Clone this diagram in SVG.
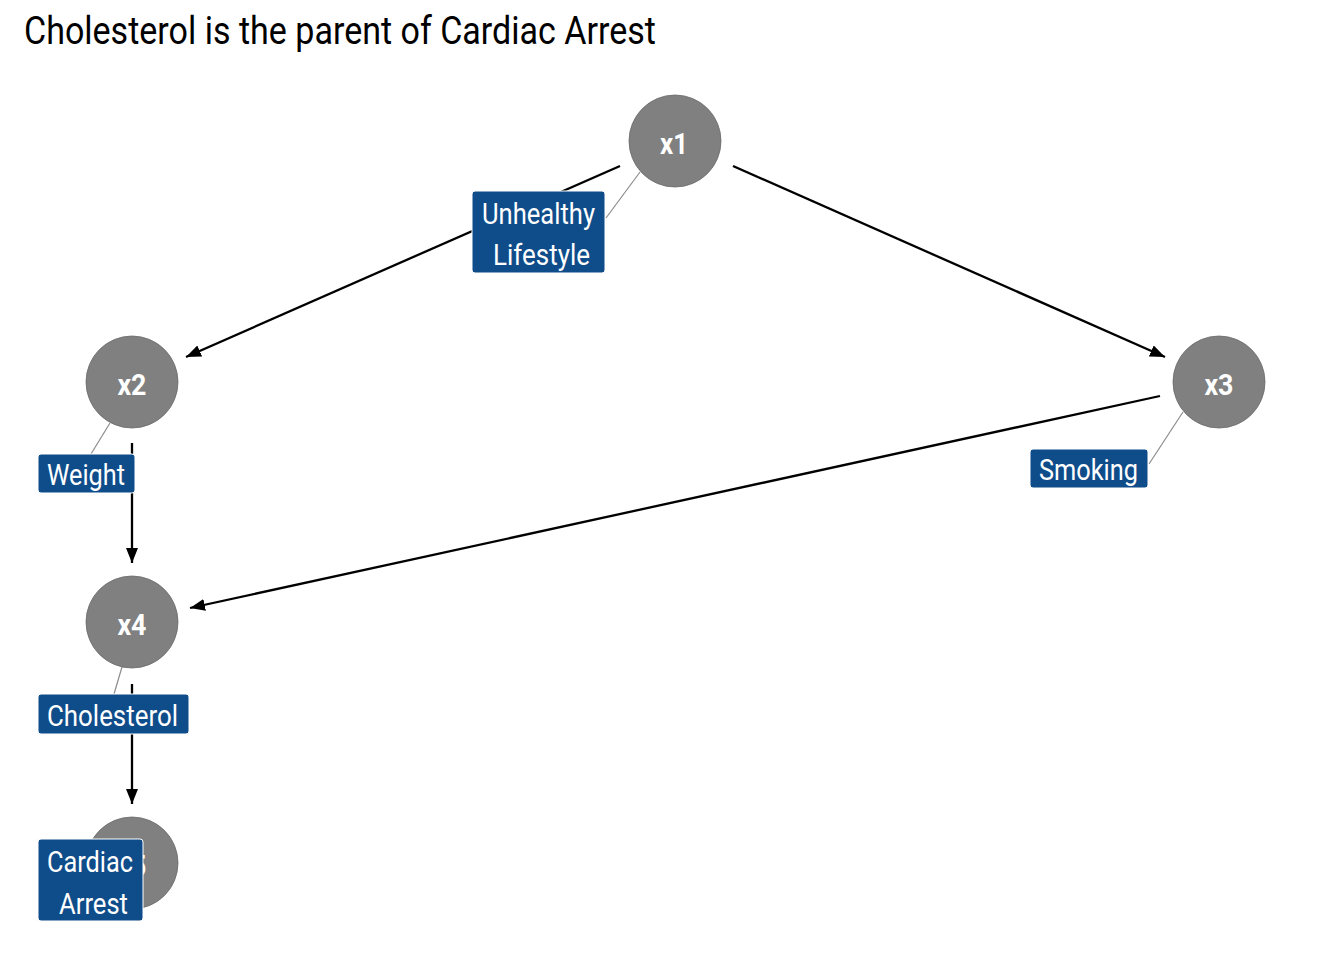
<svg xmlns="http://www.w3.org/2000/svg" width="1344" height="960" viewBox="0 0 1344 960">
<style>
.title{font-family:Roboto,"Liberation Sans",sans-serif;font-size:38px;fill:#000}
.node circle{fill:#808080;stroke:#6a6a6a;stroke-width:0.8}
.nl{font-family:Roboto,"Liberation Sans",sans-serif;font-weight:bold;font-size:29px;fill:#fff;text-anchor:middle}
.edge{stroke:#000;stroke-width:2.3;fill:none}
.lead{stroke:#8c8c8c;stroke-width:1.2}
.box{fill:#0f4c8a;stroke:#fff;stroke-width:1}
.bt{font-family:Roboto,"Liberation Sans",sans-serif;font-size:30px;fill:#fff}
</style>
<defs>
<marker id="arr" markerUnits="userSpaceOnUse" markerWidth="16" markerHeight="13" refX="15" refY="6" orient="auto">
<path d="M0,0 L15,6 L0,12 z" fill="#000"/>
</marker>
</defs>
<rect width="1344" height="960" fill="#fff"/>
<text class="title" x="24" y="44" textLength="632" lengthAdjust="spacingAndGlyphs">Cholesterol is the parent of Cardiac Arrest</text>
<g id="connectors">
<line class="edge" x1="620" y1="166" x2="186" y2="357" marker-end="url(#arr)"/>
<line class="edge" x1="733" y1="166" x2="1165" y2="357" marker-end="url(#arr)"/>
<line class="edge" x1="1160" y1="396" x2="190" y2="608" marker-end="url(#arr)"/>
<line class="edge" x1="132" y1="443" x2="132" y2="563" marker-end="url(#arr)"/>
<line class="edge" x1="132" y1="684" x2="132" y2="804" marker-end="url(#arr)"/>
</g>
<g id="leaders">
<line class="lead" x1="640" y1="172" x2="606" y2="218"/>
<line class="lead" x1="110" y1="423" x2="91" y2="454"/>
<line class="lead" x1="1183" y1="412" x2="1149" y2="464"/>
<line class="lead" x1="122" y1="667" x2="114" y2="694"/>
</g>
<g id="x1" class="node">
<circle cx="675" cy="141" r="46"/>
<text class="nl" x="674" y="154" textLength="28" lengthAdjust="spacingAndGlyphs">x1</text>
</g>
<g id="x2" class="node">
<circle cx="132" cy="382" r="46"/>
<text class="nl" x="132" y="395" textLength="29" lengthAdjust="spacingAndGlyphs">x2</text>
</g>
<g id="x3" class="node">
<circle cx="1219" cy="382" r="46"/>
<text class="nl" x="1219" y="395" textLength="29" lengthAdjust="spacingAndGlyphs">x3</text>
</g>
<g id="x4" class="node">
<circle cx="132" cy="622" r="46"/>
<text class="nl" x="132" y="635" textLength="29" lengthAdjust="spacingAndGlyphs">x4</text>
</g>
<g id="x5" class="node">
<circle cx="132" cy="863" r="46"/>
<text class="nl" x="132" y="876" textLength="29" lengthAdjust="spacingAndGlyphs">x5</text>
</g>
<g id="label-unhealthy">
<rect class="box" x="472" y="191" width="133" height="82" rx="3"/>
<text class="bt" x="482" y="224" textLength="113" lengthAdjust="spacingAndGlyphs">Unhealthy</text>
<text class="bt" x="493" y="265" textLength="97" lengthAdjust="spacingAndGlyphs">Lifestyle</text>
</g>
<g id="label-weight">
<rect class="box" x="38" y="454" width="97" height="39" rx="3"/>
<text class="bt" x="47" y="485" textLength="78" lengthAdjust="spacingAndGlyphs">Weight</text>
</g>
<g id="label-smoking">
<rect class="box" x="1030" y="449" width="118" height="39" rx="3"/>
<text class="bt" x="1039" y="480" textLength="99" lengthAdjust="spacingAndGlyphs">Smoking</text>
</g>
<g id="label-cholesterol">
<rect class="box" x="38" y="694" width="151" height="40" rx="3"/>
<text class="bt" x="47" y="726" textLength="131" lengthAdjust="spacingAndGlyphs">Cholesterol</text>
</g>
<g id="label-cardiac">
<rect class="box" x="38" y="839" width="105" height="82" rx="3"/>
<text class="bt" x="47" y="872" textLength="86" lengthAdjust="spacingAndGlyphs">Cardiac</text>
<text class="bt" x="59" y="914" textLength="69" lengthAdjust="spacingAndGlyphs">Arrest</text>
</g>
</svg>
